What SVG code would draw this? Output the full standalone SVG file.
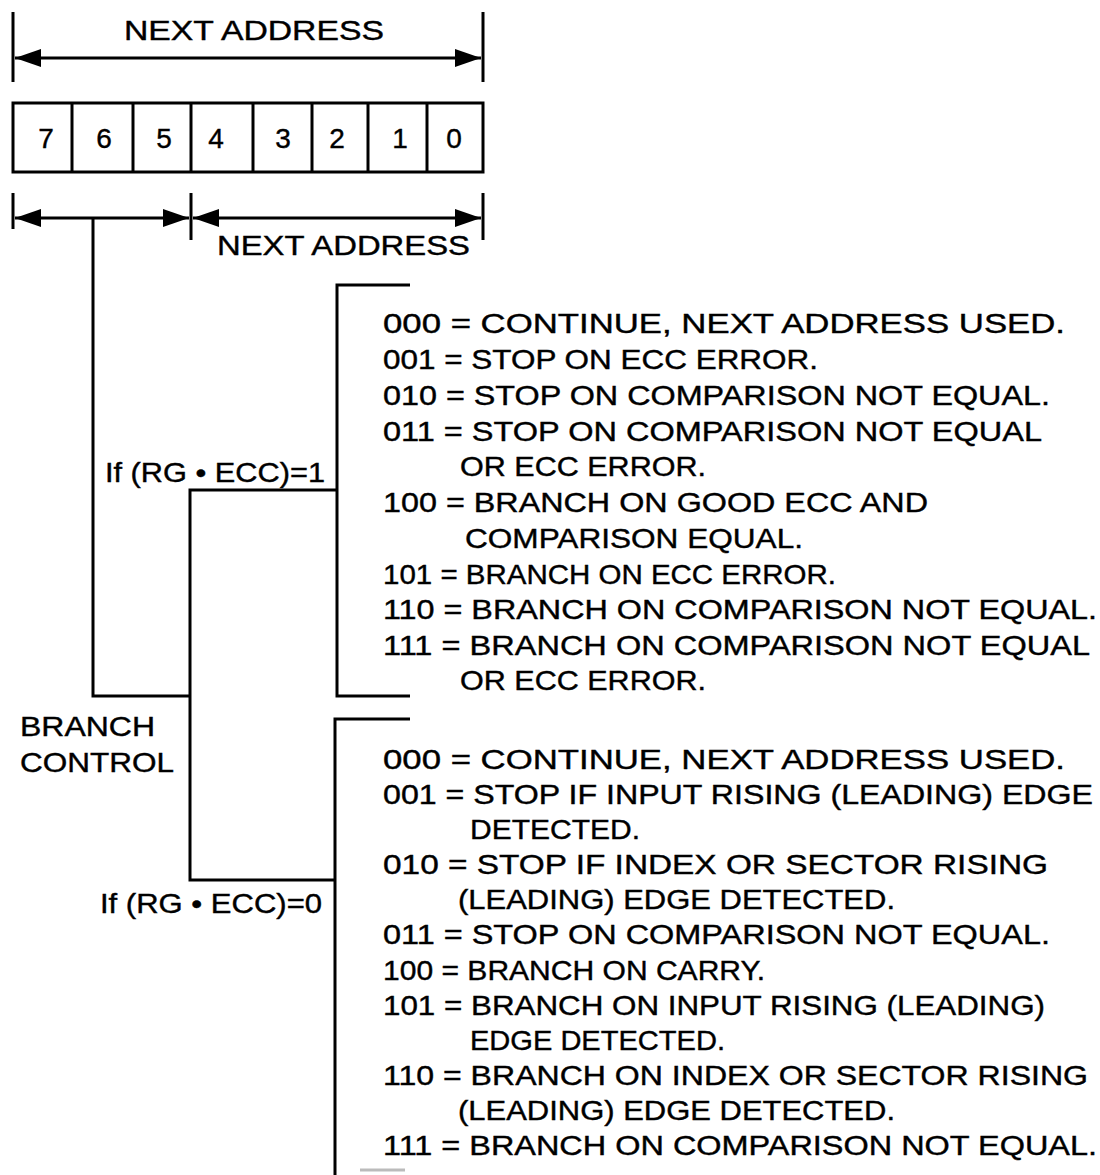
<svg xmlns="http://www.w3.org/2000/svg" width="1100" height="1175" viewBox="0 0 1100 1175">
<style>
.ln{stroke:#000;stroke-width:3;fill:none}
.t{font-family:"Liberation Sans",Arial,Helvetica,sans-serif;font-size:27.5px;fill:#000;stroke:#000;stroke-width:0.4}
.d{font-family:"Liberation Sans",Arial,Helvetica,sans-serif;font-size:28px;fill:#000;stroke:#000;stroke-width:0.4;text-anchor:middle}
</style>
<defs>
<marker id="ah" viewBox="0 0 26 18" refX="26" refY="9" markerWidth="26" markerHeight="18" markerUnits="userSpaceOnUse" orient="auto-start-reverse">
<path d="M0,0 L26,9 L0,18 z" fill="#000"/>
</marker>
</defs>
<rect width="1100" height="1175" fill="#fff"/>

<g id="top-span">
<line class="ln" x1="13" y1="12" x2="13" y2="82"/>
<line class="ln" x1="483" y1="12" x2="483" y2="82"/>
<line class="ln" x1="15" y1="58" x2="481" y2="58" marker-start="url(#ah)" marker-end="url(#ah)"/>
<text class="t" x="124" y="40" textLength="260" lengthAdjust="spacingAndGlyphs">NEXT ADDRESS</text>
</g>

<g id="register">
<rect class="ln" x="13" y="103" width="470" height="69"/>
<line class="ln" x1="72" y1="103" x2="72" y2="172"/>
<line class="ln" x1="133" y1="103" x2="133" y2="172"/>
<line class="ln" x1="191" y1="103" x2="191" y2="172"/>
<line class="ln" x1="253" y1="103" x2="253" y2="172"/>
<line class="ln" x1="312" y1="103" x2="312" y2="172"/>
<line class="ln" x1="368" y1="103" x2="368" y2="172"/>
<line class="ln" x1="427" y1="103" x2="427" y2="172"/>
<text class="d" x="46" y="148">7</text>
<text class="d" x="104" y="148">6</text>
<text class="d" x="164" y="148">5</text>
<text class="d" x="216" y="148">4</text>
<text class="d" x="283" y="148">3</text>
<text class="d" x="337" y="148">2</text>
<text class="d" x="400" y="148">1</text>
<text class="d" x="454" y="148">0</text>
</g>

<g id="bottom-spans">
<line class="ln" x1="13" y1="193" x2="13" y2="229"/>
<line class="ln" x1="191" y1="193" x2="191" y2="240"/>
<line class="ln" x1="483" y1="193" x2="483" y2="240"/>
<line class="ln" x1="15" y1="218" x2="189" y2="218" marker-start="url(#ah)" marker-end="url(#ah)"/>
<line class="ln" x1="193" y1="218" x2="481" y2="218" marker-start="url(#ah)" marker-end="url(#ah)"/>
<text class="t" x="217" y="255" textLength="253" lengthAdjust="spacingAndGlyphs">NEXT ADDRESS</text>
</g>

<g id="connectors">
<polyline class="ln" points="93,218 93,696 190,696"/>
<polyline class="ln" points="337,490 190,490 190,880 335,880"/>
</g>

<g id="branch-control">
<text class="t" x="20" y="736" textLength="135" lengthAdjust="spacingAndGlyphs">BRANCH</text>
<text class="t" x="20" y="772" textLength="154" lengthAdjust="spacingAndGlyphs">CONTROL</text>
</g>

<g id="cond1">
<text class="t" x="105" y="482" textLength="220" lengthAdjust="spacingAndGlyphs">If (RG • ECC)=1</text>
</g>
<g id="cond0">
<text class="t" x="100" y="913" textLength="222" lengthAdjust="spacingAndGlyphs">If (RG • ECC)=0</text>
</g>

<g id="list-ecc1">
<polyline class="ln" points="410,285 337,285 337,696 410,696"/>
<text class="t" x="383" y="333" textLength="682" lengthAdjust="spacingAndGlyphs">000 = CONTINUE, NEXT ADDRESS USED.</text>
<text class="t" x="383" y="369" textLength="435" lengthAdjust="spacingAndGlyphs">001 = STOP ON ECC ERROR.</text>
<text class="t" x="383" y="405" textLength="667" lengthAdjust="spacingAndGlyphs">010 = STOP ON COMPARISON NOT EQUAL.</text>
<text class="t" x="383" y="441" textLength="659" lengthAdjust="spacingAndGlyphs">011 = STOP ON COMPARISON NOT EQUAL</text>
<text class="t" x="460" y="476" textLength="246" lengthAdjust="spacingAndGlyphs">OR ECC ERROR.</text>
<text class="t" x="383" y="512" textLength="545" lengthAdjust="spacingAndGlyphs">100 = BRANCH ON GOOD ECC AND</text>
<text class="t" x="465" y="548" textLength="338" lengthAdjust="spacingAndGlyphs">COMPARISON EQUAL.</text>
<text class="t" x="383" y="584" textLength="453" lengthAdjust="spacingAndGlyphs">101 = BRANCH ON ECC ERROR.</text>
<text class="t" x="383" y="619" textLength="714" lengthAdjust="spacingAndGlyphs">110 = BRANCH ON COMPARISON NOT EQUAL.</text>
<text class="t" x="383" y="655" textLength="707" lengthAdjust="spacingAndGlyphs">111 = BRANCH ON COMPARISON NOT EQUAL</text>
<text class="t" x="460" y="690" textLength="246" lengthAdjust="spacingAndGlyphs">OR ECC ERROR.</text>
</g>

<g id="list-ecc0">
<polyline class="ln" points="410,719 335,719 335,1175"/>
<line x1="360" y1="1170" x2="405" y2="1170" stroke="#bbb" stroke-width="3"/>
<text class="t" x="383" y="769" textLength="682" lengthAdjust="spacingAndGlyphs">000 = CONTINUE, NEXT ADDRESS USED.</text>
<text class="t" x="383" y="804" textLength="710" lengthAdjust="spacingAndGlyphs">001 = STOP IF INPUT RISING (LEADING) EDGE</text>
<text class="t" x="470" y="839" textLength="170" lengthAdjust="spacingAndGlyphs">DETECTED.</text>
<text class="t" x="383" y="874" textLength="665" lengthAdjust="spacingAndGlyphs">010 = STOP IF INDEX OR SECTOR RISING</text>
<text class="t" x="458" y="909" textLength="437" lengthAdjust="spacingAndGlyphs">(LEADING) EDGE DETECTED.</text>
<text class="t" x="383" y="944" textLength="667" lengthAdjust="spacingAndGlyphs">011 = STOP ON COMPARISON NOT EQUAL.</text>
<text class="t" x="383" y="980" textLength="382" lengthAdjust="spacingAndGlyphs">100 = BRANCH ON CARRY.</text>
<text class="t" x="383" y="1015" textLength="662" lengthAdjust="spacingAndGlyphs">101 = BRANCH ON INPUT RISING (LEADING)</text>
<text class="t" x="470" y="1050" textLength="255" lengthAdjust="spacingAndGlyphs">EDGE DETECTED.</text>
<text class="t" x="383" y="1085" textLength="705" lengthAdjust="spacingAndGlyphs">110 = BRANCH ON INDEX OR SECTOR RISING</text>
<text class="t" x="458" y="1120" textLength="437" lengthAdjust="spacingAndGlyphs">(LEADING) EDGE DETECTED.</text>
<text class="t" x="383" y="1155" textLength="714" lengthAdjust="spacingAndGlyphs">111 = BRANCH ON COMPARISON NOT EQUAL.</text>
</g>
</svg>
